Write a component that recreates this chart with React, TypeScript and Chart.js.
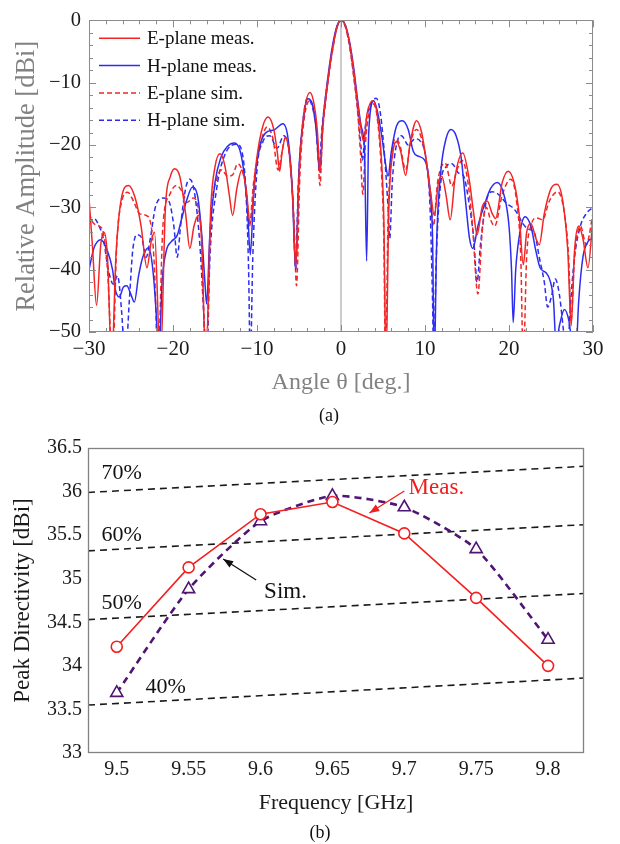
import React, { useEffect, useRef } from "react";
import { Chart, registerables } from "chart.js";
Chart.register(...registerables);

const SERIF = "'Liberation Serif', 'Times New Roman', serif";

// ---------- (a) radiation patterns ----------
const angleTicks = [-30, -20, -10, 0, 10, 20, 30];
const dbTicks = [0, -10, -20, -30, -40, -50];
const seriesLabels = ["E-plane meas.", "H-plane meas.", "E-plane sim.", "H-plane sim."];

// [angle deg, relative amplitude dB]
const eMeas: [number, number][] = [
  [-30, -28.5], [-29.6, -36], [-29.1, -45.7], [-28.6, -36], [-28.2, -34], [-27.8, -38], [-27.3, -55], [-26.8, -38],
  [-26.2, -29], [-25.3, -26.5], [-24.5, -28.5], [-23.8, -33], [-23.1, -39.7], [-22.6, -35.5], [-22.2, -34], [-21.5, -55],
  [-20.9, -30], [-20.3, -25], [-19.8, -23.8], [-19.2, -25], [-18.5, -31], [-18, -36.6], [-17.5, -33], [-17, -31.3],
  [-16.6, -35], [-16.1, -55], [-15.5, -30], [-15, -23.5], [-14.4, -21.4], [-13.8, -23.5], [-13.3, -28], [-12.9, -31.3],
  [-12.4, -27], [-11.8, -24], [-11.3, -27], [-10.8, -32.6], [-10.2, -24], [-9.5, -18], [-8.7, -15.5], [-8, -17.5],
  [-7.6, -21], [-7.3, -24.2], [-7, -21], [-6.6, -18.9], [-6.1, -22], [-5.7, -30], [-5.4, -39.7], [-5, -25],
  [-4.5, -16], [-3.7, -11.6], [-3.2, -13.5], [-2.8, -18], [-2.5, -24.4], [-2.2, -18], [-2, -14.5], [-1.5, -9],
  [-1, -4.5], [-0.5, -1.2], [0, 0], [0.5, -0.8], [1, -3.5], [1.5, -8], [2, -13.5], [2.4, -17.5], [2.7, -19.5],
  [3.1, -15], [3.8, -12.9], [4.3, -15], [4.8, -22], [5.1, -32], [5.35, -55], [5.7, -30], [6.2, -21], [6.6, -19.5],
  [7.1, -21], [7.7, -24.9], [8.2, -20], [9, -16.1], [9.6, -18], [10.2, -23], [10.7, -28], [11.1, -31.3], [11.6, -26],
  [12, -25], [12.5, -28], [13, -32], [13.6, -25], [14.5, -21.3], [15.2, -25], [15.8, -31], [16.2, -34.4], [16.8, -30],
  [17.4, -29], [18, -31], [18.4, -31.8], [19.2, -26], [19.9, -24.2], [20.6, -26], [21.2, -31], [21.7, -39.2], [22.1, -34],
  [22.6, -32.6], [23.2, -35], [23.6, -36], [24.2, -31], [25, -27], [25.7, -26.3], [26.4, -29], [27, -37], [27.4, -49],
  [27.8, -37], [28.3, -33], [28.8, -35], [29.4, -39.7], [30, -31.5],
];

const hMeas: [number, number][] = [
  [-30, -40], [-29.4, -36.5], [-28.6, -35.2], [-27.8, -37], [-27.2, -40], [-26.9, -43], [-26.4, -44.4], [-25.9, -42.8],
  [-25.5, -42.6], [-25, -44], [-24.6, -45.2], [-24.1, -41], [-23.6, -38], [-22.9, -36.5], [-22.4, -40], [-22, -47],
  [-21.7, -55], [-21.3, -42], [-20.8, -37], [-20.2, -35.5], [-19.5, -34.5], [-19, -32], [-18.4, -29], [-17.7, -26.8],
  [-17.1, -28], [-16.6, -34], [-16.2, -42], [-16, -45.5], [-15.6, -34], [-15, -26], [-14.3, -22], [-13.5, -20.2],
  [-12.7, -19.7], [-12, -21], [-11.5, -25], [-11.1, -31], [-10.8, -37.6], [-10.4, -28], [-9.8, -21], [-9, -18.1],
  [-8, -17.6], [-6.9, -16.6], [-6.3, -19], [-5.8, -27], [-5.4, -40], [-5, -24], [-4.5, -16], [-3.9, -12.6],
  [-3.3, -14], [-2.9, -18], [-2.5, -24.4], [-2.2, -17], [-1.9, -13], [-1.5, -8.5], [-1, -4], [-0.5, -1], [0, 0],
  [0.5, -0.7], [1, -3.3], [1.5, -7.5], [2, -13], [2.4, -17], [2.8, -21], [3.05, -38.6], [3.3, -18], [3.9, -12.9],
  [4.4, -15], [4.9, -19], [5.3, -23], [5.6, -25], [6, -21], [6.6, -17], [7.3, -16.1], [8, -17.5], [8.6, -21],
  [9.2, -21.8], [10, -22.5], [10.5, -26], [10.9, -35], [11.1, -55], [11.4, -35], [11.9, -24], [12.5, -19], [13.1, -17.5],
  [13.7, -18.5], [14.3, -22], [14.9, -30], [15.3, -35], [15.7, -36.6], [16.3, -33], [17.1, -29.5], [17.8, -27],
  [18.6, -26], [19.4, -28], [20, -33], [20.3, -40], [20.5, -48.5], [20.8, -40], [21.3, -34], [21.9, -31.5], [22.6, -33],
  [23.2, -37], [23.7, -39.7], [24.4, -40.5], [24.9, -41.8], [25.3, -45], [25.6, -52], [26, -49], [26.6, -46.4],
  [27.1, -48], [27.9, -55], [28.3, -45], [28.8, -38], [29.4, -35.5], [30, -35],
];

const eSim: [number, number][] = [
  [-30, -31], [-29.5, -32.5], [-28.8, -33], [-28.3, -34], [-27.8, -40], [-27.2, -55], [-26.7, -36], [-26.1, -29],
  [-25.4, -27.6], [-24.7, -29], [-24, -31], [-23.2, -31.3], [-22.6, -33], [-22.2, -40], [-21.8, -55], [-21.2, -33],
  [-20.4, -28], [-19.6, -26.5], [-18.9, -27.5], [-18.3, -29.2], [-17.6, -28.5], [-17.1, -29.5], [-16.6, -35],
  [-16.1, -55], [-15.5, -32], [-14.8, -25.5], [-14.2, -24], [-13.5, -25], [-12.9, -24.8], [-12.3, -23], [-11.8, -24],
  [-11.3, -27], [-10.9, -33], [-10.4, -26], [-9.6, -20], [-8.8, -17.1], [-8.1, -19], [-7.5, -24], [-7, -21],
  [-6.6, -18.7], [-6.1, -22], [-5.6, -32], [-5.3, -42.6], [-4.9, -25], [-4.4, -16], [-3.7, -12.9], [-3.2, -15],
  [-2.8, -20], [-2.5, -26.5], [-2.2, -18], [-1.9, -14], [-1.5, -9.5], [-1, -4.8], [-0.5, -1.3], [0, 0], [0.5, -1],
  [1, -4], [1.5, -9], [2, -15], [2.3, -21], [2.6, -27.9], [2.9, -20], [3.3, -15], [3.8, -13.4], [4.3, -15.5],
  [4.8, -24], [5.1, -35], [5.3, -55], [5.6, -32], [6, -22], [6.5, -19], [7, -20], [7.7, -24], [8.3, -19.5], [9, -17.5],
  [9.6, -19], [10.2, -23], [10.6, -28], [11, -33], [11.5, -26], [12.4, -22.9], [13.2, -26.6], [13.8, -24], [14.4, -22.5],
  [15, -25], [15.6, -32], [16.3, -43.9], [16.8, -34], [17.3, -30], [17.8, -32], [18.3, -33], [19.2, -28], [20.2, -25.5],
  [20.9, -29], [21.4, -38], [21.7, -55], [22.1, -38], [22.6, -33], [23.3, -31.7], [24, -32], [24.8, -29], [25.8, -27.5],
  [26.6, -31], [27.1, -38], [27.4, -48], [27.8, -38], [28.5, -33], [29.2, -36], [30, -31],
];

const hSim: [number, number][] = [
  [-30, -32.5], [-29.4, -31.8], [-28.8, -33], [-28.3, -35], [-27.7, -40], [-27.1, -42.3], [-26.6, -41], [-26.1, -47],
  [-25.7, -55], [-25.2, -45], [-24.8, -37], [-24.3, -34.4], [-23.7, -35], [-23.2, -38], [-22.7, -35], [-22.1, -30],
  [-21.2, -28.5], [-20.5, -29], [-19.9, -33], [-19.5, -38], [-19.1, -33], [-18.5, -27], [-18, -25.5], [-17.4, -28],
  [-16.8, -36], [-16.3, -48], [-16, -55], [-15.6, -38], [-14.8, -27], [-13.8, -21.5], [-12.4, -19.9], [-11.8, -21],
  [-11.3, -28], [-11, -40], [-10.8, -55], [-10.5, -38], [-10, -24], [-9.3, -19.5], [-8.5, -18.5], [-7.6, -20.5],
  [-6.8, -18.5], [-6.2, -21], [-5.7, -30], [-5.4, -40], [-5.1, -27], [-4.6, -17], [-4, -12.5], [-3.5, -13.5],
  [-3, -17], [-2.6, -23.5], [-2.3, -18], [-2, -14], [-1.5, -9], [-1, -4.5], [-0.5, -1.2], [0, 0], [0.5, -0.8],
  [1, -3.8], [1.5, -8.5], [2, -14.5], [2.3, -19], [2.55, -22.5], [2.9, -17], [3.5, -13.5], [4.2, -12.5], [4.7, -15],
  [5.2, -22], [5.6, -30], [5.8, -35], [6.1, -26], [6.6, -20], [7.2, -18.5], [8, -20], [8.8, -19], [9.5, -19.5],
  [10.1, -22], [10.6, -30], [10.9, -45], [11.05, -55], [11.3, -40], [11.8, -27], [12.5, -23.5], [13.2, -23], [14, -24.5],
  [14.6, -25], [15.2, -29], [15.8, -35], [16.2, -42], [16.6, -36], [17.3, -29], [18, -27.5], [18.8, -28], [19.8, -29.5],
  [20.4, -30], [21, -31], [21.6, -32.5], [22.3, -33.5], [23, -34], [23.6, -38], [24.2, -42], [24.6, -46], [25.1, -44],
  [25.5, -41.5], [26, -44], [26.5, -50], [26.9, -55], [27.3, -46], [27.8, -38], [28.5, -33], [29.2, -31], [30, -30],
];

const zeroAxisAngle = [0, 0];
const zeroAxisDb = [0, -50];

// ---------- (b) peak directivity ----------
const freqs = [9.5, 9.55, 9.6, 9.65, 9.7, 9.75, 9.8];
const measDir = [34.22, 35.13, 35.74, 35.88, 35.52, 34.78, 34.0];
const simDir = [33.69, 34.88, 35.66, 35.95, 35.82, 35.34, 34.3];
const dirTicks = [33, 33.5, 34, 34.5, 35, 35.5, 36, 36.5];
const effLabels = ["70%", "60%", "50%", "40%"];
const effStart = [35.99, 35.32, 34.53, 33.55];
const effEnd = [36.29, 35.62, 34.83, 33.86];
const effSpan = [9.48, 9.825];
const effLabelX = [9.5035, 9.5035, 9.5035, 9.534];
const effLabelY = [36.21, 35.5, 34.72, 33.76];
const noteTexts = ["Meas.", "Sim."];
const noteColors = ["rgb(240,30,30)", "#111"];
const noteTextAt: [number, number][] = [[9.703, 36.04], [9.6025, 34.85]];
const noteArrowFrom: [number, number][] = [[9.7, 36.007], [9.597, 34.985]];
const noteArrowTo: [number, number][] = [[9.6757, 35.754], [9.574, 35.226]];

const RED = "rgb(242,38,38)";
const BLUE = "rgb(45,45,242)";
const PURPLE = "rgb(80,20,115)";

const fmtMinus = (v: number) => (v < 0 ? "\u2212" + Math.abs(v) : String(v));
const pts = (arr: [number, number][]) => arr.map(([x, y]) => ({ x, y }));

const framePlugin = {
  id: "frame",
  afterDatasetsDraw(chart: any, _args: any, opts: any) {
    const { ctx, chartArea: a } = chart;
    const xs = chart.scales.x;
    const ys = chart.scales.y;
    ctx.save();
    ctx.strokeStyle = opts.color || "#888";
    ctx.lineWidth = 1;
    ctx.beginPath();
    if (opts.xMinor) {
      const n = Math.round((xs.max - xs.min) / opts.xMinor);
      for (let i = 0; i <= n; i++) {
        const v = xs.min + i * opts.xMinor;
        const major = Math.abs(v / opts.xMajor - Math.round(v / opts.xMajor)) < 1e-6;
        const L = major ? 7 : 4;
        const px = Math.round(xs.getPixelForValue(v)) + 0.5;
        ctx.moveTo(px, a.bottom);
        ctx.lineTo(px, a.bottom - L);
        ctx.moveTo(px, a.top);
        ctx.lineTo(px, a.top + L);
      }
    }
    if (opts.yMinor) {
      const n = Math.round((ys.max - ys.min) / opts.yMinor);
      for (let i = 0; i <= n; i++) {
        const v = ys.min + i * opts.yMinor;
        const major = Math.abs(v / opts.yMajor - Math.round(v / opts.yMajor)) < 1e-6;
        const L = major ? 7 : 4;
        const py = Math.round(ys.getPixelForValue(v)) + 0.5;
        ctx.moveTo(a.left, py);
        ctx.lineTo(a.left + L, py);
        ctx.moveTo(a.right, py);
        ctx.lineTo(a.right - L, py);
      }
    }
    ctx.stroke();
    ctx.lineWidth = opts.width || 1;
    ctx.strokeRect(Math.round(a.left) + 0.5, Math.round(a.top) + 0.5, Math.round(a.width) - 1, Math.round(a.height) - 1);
    ctx.restore();
  },
};

const insideLegend = {
  id: "insideLegend",
  afterDatasetsDraw(chart: any) {
    const { ctx, chartArea: a } = chart;
    ctx.save();
    let row = 0;
    chart.data.datasets.forEach((ds: any) => {
      if (!seriesLabels.includes(ds.label)) return;
      const y = a.top + 18 + row * 27.3;
      ctx.strokeStyle = ds.borderColor;
      ctx.lineWidth = ds.borderWidth;
      ctx.setLineDash(ds.borderDash || []);
      ctx.beginPath();
      ctx.moveTo(a.left + 10, y);
      ctx.lineTo(a.left + 51, y);
      ctx.stroke();
      ctx.setLineDash([]);
      ctx.fillStyle = "#111";
      ctx.font = `19px ${SERIF}`;
      ctx.textBaseline = "middle";
      ctx.textAlign = "left";
      ctx.fillText(ds.label, a.left + 58, y + 1);
      row++;
    });
    ctx.restore();
  },
};

const notesPlugin = {
  id: "notes",
  afterDatasetsDraw(chart: any) {
    const { ctx } = chart;
    const xs = chart.scales.x;
    const ys = chart.scales.y;
    const P = (p: [number, number]) => [xs.getPixelForValue(p[0]), ys.getPixelForValue(p[1])];
    ctx.save();
    ctx.font = `22px ${SERIF}`;
    ctx.fillStyle = "#111";
    ctx.textAlign = "center";
    ctx.textBaseline = "middle";
    effLabels.forEach((t, i) => {
      ctx.fillText(t, xs.getPixelForValue(effLabelX[i]), ys.getPixelForValue(effLabelY[i]));
    });
    noteTexts.forEach((t, i) => {
      const [tx, ty] = P(noteTextAt[i]);
      ctx.font = `23px ${SERIF}`;
      ctx.fillStyle = noteColors[i];
      ctx.textAlign = "left";
      ctx.fillText(t, tx, ty);
      const [fx, fy] = P(noteArrowFrom[i]);
      const [ex, ey] = P(noteArrowTo[i]);
      ctx.strokeStyle = noteColors[i];
      ctx.lineWidth = 1.3;
      ctx.beginPath();
      ctx.moveTo(fx, fy);
      ctx.lineTo(ex, ey);
      ctx.stroke();
      const ang = Math.atan2(ey - fy, ex - fx);
      const L = 10, W = 3.8;
      ctx.beginPath();
      ctx.moveTo(ex, ey);
      ctx.lineTo(ex - L * Math.cos(ang) + W * Math.sin(ang), ey - L * Math.sin(ang) - W * Math.cos(ang));
      ctx.lineTo(ex - L * Math.cos(ang) - W * Math.sin(ang), ey - L * Math.sin(ang) + W * Math.cos(ang));
      ctx.closePath();
      ctx.fill();
    });
    ctx.restore();
  },
};

export default function App() {
  const topRef = useRef<HTMLCanvasElement>(null);
  const botRef = useRef<HTMLCanvasElement>(null);

  useEffect(() => {
    const lineDs = (label: string, data: [number, number][], color: string, dashed: boolean) => ({
      label,
      data: pts(data),
      borderColor: color,
      backgroundColor: color,
      borderWidth: 1.5,
      borderDash: dashed ? [5, 3] : [],
      showLine: true,
      pointRadius: 0,
      cubicInterpolationMode: "monotone" as const,
    });

    const c1 = new Chart(topRef.current!, {
      type: "scatter",
      data: {
        datasets: [
          lineDs(seriesLabels[0], eMeas, RED, false),
          lineDs(seriesLabels[1], hMeas, BLUE, false),
          lineDs(seriesLabels[2], eSim, RED, true),
          lineDs(seriesLabels[3], hSim, BLUE, true),
          {
            label: "axis",
            data: zeroAxisAngle.map((x, i) => ({ x, y: zeroAxisDb[i] })),
            borderColor: "rgb(170,170,170)",
            borderWidth: 1.2,
            showLine: true,
            pointRadius: 0,
          } as any,
        ],
      },
      options: {
        animation: false,
        responsive: false,
        devicePixelRatio: 1,
        layout: { padding: { left: 0, right: 27, top: 15, bottom: 22.6 } },
        plugins: {
          legend: { display: false },
          tooltip: { enabled: false },
          frame: { color: "rgb(140,140,140)", xMinor: 2, xMajor: 10, yMinor: 2, yMajor: 10 },
        } as any,
        scales: {
          x: {
            type: "linear",
            min: -30,
            max: 30,
            afterBuildTicks: (s: any) => {
              s.ticks = angleTicks.map((v) => ({ value: v }));
            },
            afterFit: (s: any) => {
              s.height = 65.4;
            },
            grid: { display: false, drawTicks: false },
            border: { display: false },
            ticks: {
              padding: 5,
              autoSkip: false,
              maxRotation: 0,
              color: "#1a1a1a",
              font: { family: SERIF, size: 21 },
              callback: (v: any) => fmtMinus(Number(v)),
            },
            title: {
              display: true,
              text: "Angle θ [deg.]",
              color: "rgb(130,130,130)",
              font: { family: SERIF, size: 24 },
              padding: { top: 0, bottom: 0 },
            },
          },
          y: {
            type: "linear",
            min: -50,
            max: 0,
            afterBuildTicks: (s: any) => {
              s.ticks = dbTicks.map((v) => ({ value: v }));
            },
            afterFit: (s: any) => {
              s.width = 89;
            },
            grid: { display: false, drawTicks: false },
            border: { display: false },
            ticks: {
              padding: 8,
              autoSkip: false,
              color: "#1a1a1a",
              font: { family: SERIF, size: 20.5 },
              callback: (v: any) => fmtMinus(Number(v)),
            },
            title: {
              display: true,
              text: "Relative Amplitude [dBi]",
              color: "rgb(130,130,130)",
              font: { family: SERIF, size: 26.5 },
              padding: { top: 11, bottom: 0 },
            },
          },
        },
      },
      plugins: [framePlugin, insideLegend],
    });

    const effDatasets = effLabels.map((lab, i) => ({
      label: lab,
      data: [
        { x: effSpan[0], y: effStart[i] },
        { x: effSpan[1], y: effEnd[i] },
      ],
      borderColor: "#1a1a1a",
      borderWidth: 1.6,
      borderDash: [7, 5],
      showLine: true,
      pointRadius: 0,
    }));

    const c2 = new Chart(botRef.current!, {
      type: "scatter",
      data: {
        datasets: [
          {
            label: "Meas.",
            data: freqs.map((x, i) => ({ x, y: measDir[i] })),
            borderColor: "rgb(245,30,30)",
            backgroundColor: "#fff",
            borderWidth: 1.6,
            showLine: true,
            pointStyle: "circle",
            pointRadius: 5.5,
            pointBorderWidth: 1.6,
            pointBackgroundColor: "#fff",
            pointBorderColor: "rgb(245,30,30)",
          },
          {
            label: "Sim.",
            data: freqs.map((x, i) => ({ x, y: simDir[i] })),
            borderColor: PURPLE,
            backgroundColor: "#fff",
            borderWidth: 2.6,
            borderDash: [7, 5],
            tension: 0.2,
            showLine: true,
            pointStyle: "triangle",
            pointRadius: 7,
            pointBorderWidth: 1.6,
            pointBackgroundColor: "#fff",
            pointBorderColor: PURPLE,
          },
          ...effDatasets,
        ] as any,
      },
      options: {
        animation: false,
        responsive: false,
        devicePixelRatio: 1,
        layout: { padding: { left: 0, right: 36, top: 28, bottom: 28 } },
        plugins: {
          legend: { display: false },
          tooltip: { enabled: false },
          frame: { color: "rgb(130,130,130)", width: 1.3 },
        } as any,
        scales: {
          x: {
            type: "linear",
            min: 9.48,
            max: 9.825,
            afterBuildTicks: (s: any) => {
              s.ticks = freqs.map((v) => ({ value: v }));
            },
            afterFit: (s: any) => {
              s.height = 63;
            },
            grid: { display: false, drawTicks: false },
            border: { display: false },
            ticks: {
              padding: 5,
              autoSkip: false,
              maxRotation: 0,
              color: "#1a1a1a",
              font: { family: SERIF, size: 20 },
              callback: (v: any) => String(Number(v)),
            },
            title: {
              display: true,
              text: "Frequency [GHz]",
              color: "#1a1a1a",
              font: { family: SERIF, size: 22 },
              padding: { top: 0, bottom: 0 },
            },
          },
          y: {
            type: "linear",
            min: 33,
            max: 36.5,
            afterBuildTicks: (s: any) => {
              s.ticks = dirTicks.map((v) => ({ value: v }));
            },
            afterFit: (s: any) => {
              s.width = 88;
            },
            grid: { display: false, drawTicks: false },
            border: { display: false },
            ticks: {
              padding: 6,
              autoSkip: false,
              color: "#1a1a1a",
              font: { family: SERIF, size: 20 },
              callback: (v: any) => String(Number(v)),
            },
            title: {
              display: true,
              text: "Peak Directivity [dBi]",
              color: "#1a1a1a",
              font: { family: SERIF, size: 23 },
              padding: { top: 9, bottom: 0 },
            },
          },
        },
      },
      plugins: [framePlugin, notesPlugin],
    });

    return () => {
      c1.destroy();
      c2.destroy();
    };
  }, []);

  const caption: React.CSSProperties = {
    position: "absolute",
    width: 100,
    textAlign: "center",
    fontFamily: SERIF,
    fontSize: 18,
    lineHeight: "20px",
    color: "#111",
  };

  return (
    <div style={{ position: "absolute", left: 0, top: 0, width: 620, height: 844, background: "#fff", overflow: "hidden" }}>
      <canvas ref={topRef} width={620} height={420} style={{ position: "absolute", left: 0, top: 0 }} />
      <canvas ref={botRef} width={620} height={424} style={{ position: "absolute", left: 0, top: 420 }} />
      <div style={{ ...caption, left: 279, top: 405 }}>(a)</div>
      <div style={{ ...caption, left: 270, top: 822 }}>(b)</div>
    </div>
  );
}
